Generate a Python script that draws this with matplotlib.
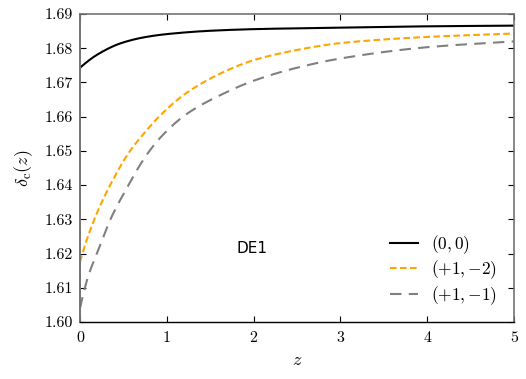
import matplotlib
matplotlib.use("Agg")
import matplotlib.pyplot as plt
import numpy as np

plt.rcParams['font.family'] = 'serif'
plt.rcParams['font.serif'] = ['cmr10']
plt.rcParams['mathtext.fontset'] = 'cm'
plt.rcParams['axes.formatter.use_mathtext'] = True

z_00 = [0.0, 0.21, 0.475, 0.74, 0.99, 1.5, 2.04, 3.0, 4.0, 5.0]
d_00 = [1.6743, 1.6783, 1.6815, 1.6832, 1.6841, 1.6851, 1.6856, 1.6860, 1.6864, 1.6866]

z_p1m2 = [0.0, 0.09, 0.21, 0.36, 0.55, 0.74, 0.93, 1.23, 1.65, 2.0, 2.5, 3.0, 4.0, 5.0]
d_p1m2 = [1.6176, 1.6249, 1.6327, 1.6406, 1.6490, 1.6552, 1.6605, 1.6670, 1.6730, 1.6765, 1.6795, 1.6815, 1.6833, 1.6843]

z_p1m1 = [0.0, 0.09, 0.21, 0.36, 0.55, 0.74, 0.93, 1.23, 1.65, 2.0, 2.5, 3.0, 4.0, 5.0]
d_p1m1 = [1.6040, 1.6130, 1.6210, 1.6305, 1.6396, 1.6478, 1.6540, 1.6608, 1.6667, 1.6705, 1.6743, 1.6770, 1.6803, 1.6820]

labels = [r'$(0,0)$', r'$(+1,{-}2)$', r'$(+1,{-}1)$']
xticks = [0, 1, 2, 3, 4, 5]
yticks = [1.60, 1.61, 1.62, 1.63, 1.64, 1.65, 1.66, 1.67, 1.68, 1.69]

def smooth(x, y):
    # monotone piecewise cubic (PCHIP) through the read-off points
    x = np.asarray(x, float); y = np.asarray(y, float)
    xs = np.linspace(x[0], x[-1], 500)
    h = np.diff(x); d = np.diff(y) / h
    m = np.zeros_like(y)
    for k in range(1, len(x) - 1):
        if d[k-1] * d[k] > 0:
            w1 = 2*h[k] + h[k-1]; w2 = h[k] + 2*h[k-1]
            m[k] = (w1 + w2) / (w1/d[k-1] + w2/d[k])
    m[0] = ((2*h[0] + h[1])*d[0] - h[0]*d[1]) / (h[0] + h[1])
    if np.sign(m[0]) != np.sign(d[0]):
        m[0] = 0
    m[-1] = d[-1]
    idx = np.clip(np.searchsorted(x, xs) - 1, 0, len(x) - 2)
    t = (xs - x[idx]) / h[idx]
    h00 = 2*t**3 - 3*t**2 + 1; h10 = t**3 - 2*t**2 + t
    h01 = -2*t**3 + 3*t**2; h11 = t**3 - t**2
    ys = h00*y[idx] + h10*h[idx]*m[idx] + h01*y[idx+1] + h11*h[idx]*m[idx+1]
    return xs, ys

fig = plt.figure(figsize=(5.26, 3.79), dpi=100)
ax = fig.add_axes([80/526, 1 - 322/379, 434/526, 308/379])

x, y = smooth(z_00, d_00)
ax.plot(x, y, color='black', lw=1.5, label=labels[0])
x, y = smooth(z_p1m2, d_p1m2)
ax.plot(x, y, color='orange', lw=1.5, ls=(0, (3.2, 1.6)), label=labels[1])
x, y = smooth(z_p1m1, d_p1m1)
ax.plot(x, y, color='gray', lw=1.5, ls=(0, (5.5, 3.5)), label=labels[2])

ax.set_xlim(0, 5)
ax.set_ylim(1.60, 1.69)
ax.set_xticks(xticks)
ax.set_yticks(yticks)
ax.set_xticklabels([str(v) for v in xticks])
ax.set_yticklabels(['%.2f' % v for v in yticks])
ax.tick_params(direction='in', top=True, right=True, labelsize=11.5, length=4, width=0.8)
ax.tick_params(axis='y', pad=5)
ax.tick_params(axis='x', pad=7)
for s in ['left', 'top', 'right']:
    ax.spines[s].set_color('0.45')
ax.spines['left'].set_linewidth(1.4)
ax.spines['top'].set_linewidth(1.2)
ax.spines['right'].set_linewidth(1.2)
ax.spines['bottom'].set_color('black')
ax.spines['bottom'].set_linewidth(1.0)

ax.set_xlabel(r'$z$', fontsize=13, labelpad=5)
ax.set_ylabel(r'$\delta_{\rm c}(z)$', fontsize=13, labelpad=7)

ax.text(1.978, 1.6215, 'DE1', family='DejaVu Sans', fontsize=11, ha='center', va='center')
ax.legend(loc='lower right', frameon=False, fontsize=12.5, handlelength=1.6,
          handletextpad=0.77, labelspacing=0.16, borderpad=0, borderaxespad=0,
          bbox_to_anchor=(0.9615, 0.05))

fig.savefig('out.png', dpi=100)
